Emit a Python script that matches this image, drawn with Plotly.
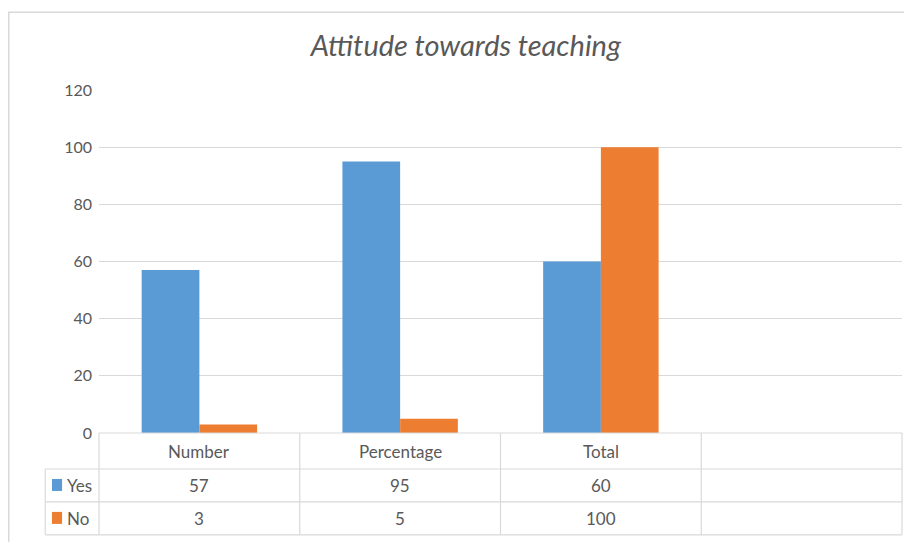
import plotly.graph_objects as go

# data
categories = ["Number", "Percentage", "Total", " "]
series_names = ["Yes", "No"]
yes_values = [57, 95, 60, None]
no_values = [3, 5, 100, None]
y_ticks = [0, 20, 40, 60, 80, 100, 120]

blue = "#5B9BD5"
orange = "#ED7D31"
grid = "#D9D9D9"
txt = "#595959"
font_family = "Lato, 'Open Sans', sans-serif"

fig = go.Figure()
fig.add_trace(go.Bar(x=categories, y=yes_values, name=series_names[0], marker_color=blue, marker_line_width=0))
fig.add_trace(go.Bar(x=categories, y=no_values, name=series_names[1], marker_color=orange, marker_line_width=0))

# table geometry in paper units (plot area is 803 x 343 px)
row_y = [0, -0.105, -0.201, -0.297]
row_mid = [-0.0525, -0.153, -0.249]
left_x = -0.067

shapes = []
# horizontal table lines
shapes.append(dict(type="line", xref="paper", yref="paper", x0=0, x1=1, y0=0, y1=0, line=dict(color=grid, width=1.2)))
for yy in row_y[1:]:
    shapes.append(dict(type="line", xref="paper", yref="paper", x0=left_x, x1=1, y0=yy, y1=yy, line=dict(color=grid, width=1.2)))
# vertical table lines
for i in range(len(categories) + 1):
    xx = i / len(categories)
    shapes.append(dict(type="line", xref="paper", yref="paper", x0=xx, x1=xx, y0=0, y1=row_y[-1], line=dict(color=grid, width=1.2)))
shapes.append(dict(type="line", xref="paper", yref="paper", x0=left_x, x1=left_x, y0=row_y[1], y1=row_y[-1], line=dict(color=grid, width=1.2)))
# legend keys
for name, col, ym in zip(series_names, [blue, orange], row_mid[1:]):
    shapes.append(dict(type="rect", xref="paper", yref="paper", x0=-0.0585, x1=-0.046, y0=ym - 0.016, y1=ym + 0.019,
                       fillcolor=col, line=dict(width=0)))
# outer chart frame
shapes.append(dict(type="rect", xref="paper", yref="paper", x0=-0.1124, x1=1.05, y0=-0.4, y1=1.227,
                   line=dict(color="#D9D9D9", width=1.5), fillcolor="rgba(0,0,0,0)", layer="below"))

annotations = []
for i, cat in enumerate(categories):
    annotations.append(dict(x=cat, xref="x", y=row_mid[0], yref="paper", text=cat.strip(), showarrow=False,
                            xanchor="center", yanchor="middle", font=dict(size=17, color=txt)))
    for vals, ym in [(yes_values, row_mid[1]), (no_values, row_mid[2])]:
        if vals[i] is not None:
            annotations.append(dict(x=cat, xref="x", y=ym, yref="paper", text=str(vals[i]), showarrow=False,
                                    xanchor="center", yanchor="middle", font=dict(size=17, color=txt)))
for name, ym in zip(series_names, row_mid[1:]):
    annotations.append(dict(x=-0.042, xref="paper", y=ym, yref="paper", text=name, showarrow=False,
                            xanchor="left", yanchor="middle", font=dict(size=17, color=txt)))

# the page adds an 8 px body margin, so the margins below are shifted to compensate
fig.update_layout(
    width=912, height=542,
    margin=dict(l=91, r=18, t=82, b=117),
    paper_bgcolor="white", plot_bgcolor="white",
    title=dict(text="<i>Attitude towards teaching</i>", x=0.502, xanchor="center", y=0.93, yanchor="middle",
               font=dict(size=29, color=txt, family=font_family)),
    font=dict(family=font_family, color=txt),
    barmode="group", bargap=0.425, bargroupgap=0,
    showlegend=False,
    xaxis=dict(showticklabels=False, showgrid=False, zeroline=False, showline=False, ticks=""),
    yaxis=dict(range=[0, 120], tickvals=y_ticks, showgrid=True, gridcolor=grid, gridwidth=1.2,
               zeroline=False, showline=False, ticks="", ticklabelstandoff=6,
               tickfont=dict(size=16, color=txt)),
    shapes=shapes, annotations=annotations,
)

fig.write_html("out.html")
